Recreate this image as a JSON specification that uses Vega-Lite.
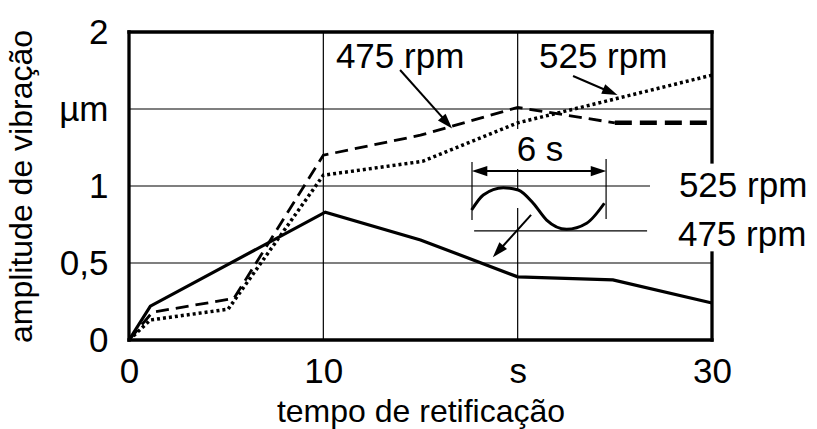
{
  "$schema": "https://vega.github.io/schema/vega-lite/v6.json",
  "width": 583,
  "height": 308,
  "autosize": {"type": "none"},
  "padding": {"left": 129, "top": 32, "right": 105, "bottom": 89},
  "background": "white",
  "config": {"view": {"stroke": null}, "font": "Liberation Sans"},
  "datasets": {
    "frame": [
      {"x": 0, "x2": 30, "y": 2, "y2": 2},
      {"x": 0, "x2": 30, "y": 0, "y2": 0},
      {"x": 0, "x2": 0, "y": 0, "y2": 2},
      {"x": 30, "x2": 30, "y": 2, "y2": 1.156},
      {"x": 30, "x2": 30, "y": 0.565, "y2": 0}
    ],
    "grid": [
      {"x": 10, "x2": 10, "y": 0, "y2": 2},
      {"x": 20, "x2": 20, "y": 2, "y2": 1.37},
      {"x": 20, "x2": 20, "y": 1.11, "y2": 0.97},
      {"x": 20, "x2": 20, "y": 0.857, "y2": 0},
      {"x": 0, "x2": 30, "y": 1.5, "y2": 1.5},
      {"x": 0, "x2": 26.81, "y": 1, "y2": 1},
      {"x": 0, "x2": 30, "y": 0.5, "y2": 0.5},
      {"x": 17.76, "x2": 26.66, "y": 0.708, "y2": 0.708},
      {"x": 17.65, "x2": 17.65, "y": 1.156, "y2": 0.779},
      {"x": 24.55, "x2": 24.55, "y": 1.175, "y2": 0.786}
    ],
    "shafts": [
      {"x": 13.95, "y": 1.753, "x2": 16.38, "y2": 1.41},
      {"x": 22.85, "y": 1.714, "x2": 24.79, "y2": 1.609},
      {"x": 20.69, "y": 0.812, "x2": 18.98, "y2": 0.573},
      {"x": 18.01, "y": 1.097, "x2": 24.19, "y2": 1.097}
    ],
    "heads": [
      {"id": "a1", "x": 16.36, "y": 1.41},
      {"id": "a2", "x": 24.77, "y": 1.61},
      {"id": "a3", "x": 18.99, "y": 0.575},
      {"id": "a4", "x": 18.04, "y": 1.097},
      {"id": "a5", "x": 24.16, "y": 1.097}
    ],
    "curves": [
      {"series": "solid", "x": 0, "y": 0},
      {"series": "solid", "x": 1.1, "y": 0.22},
      {"series": "solid", "x": 10.1, "y": 0.83},
      {"series": "solid", "x": 15, "y": 0.65},
      {"series": "solid", "x": 20, "y": 0.41},
      {"series": "solid", "x": 24.9, "y": 0.39},
      {"series": "solid", "x": 30, "y": 0.24},
      {"series": "475", "x": 0, "y": 0},
      {"series": "475", "x": 1.2, "y": 0.18},
      {"series": "475", "x": 5.4, "y": 0.27},
      {"series": "475", "x": 10, "y": 1.2},
      {"series": "475", "x": 15, "y": 1.33},
      {"series": "475", "x": 20, "y": 1.51},
      {"series": "475", "x": 25, "y": 1.41},
      {"series": "475end", "x": 25, "y": 1.41},
      {"series": "475end", "x": 30, "y": 1.41},
      {"series": "525", "x": 0, "y": 0},
      {"series": "525", "x": 1.1, "y": 0.13},
      {"series": "525", "x": 5.1, "y": 0.2},
      {"series": "525", "x": 10, "y": 1.07},
      {"series": "525", "x": 15.1, "y": 1.16},
      {"series": "525", "x": 20, "y": 1.41},
      {"series": "525", "x": 30, "y": 1.72},
      {"series": "wave", "x": 17.63, "y": 0.844},
      {"series": "wave", "x": 18.23, "y": 0.942},
      {"series": "wave", "x": 19.26, "y": 0.989},
      {"series": "wave", "x": 20.03, "y": 0.974},
      {"series": "wave", "x": 20.8, "y": 0.888},
      {"series": "wave", "x": 21.49, "y": 0.779},
      {"series": "wave", "x": 22.52, "y": 0.719},
      {"series": "wave", "x": 23.55, "y": 0.758},
      {"series": "wave", "x": 24.46, "y": 0.888}
    ],
    "texts": [
      {"label": "475 rpm", "x": 13.95, "y": 1.84},
      {"label": "525 rpm", "x": 24.4, "y": 1.84},
      {"label": "6 s", "x": 21.15, "y": 1.234},
      {"label": "525 rpm", "x": 31.6, "y": 1.0},
      {"label": "475 rpm", "x": 31.55, "y": 0.68}
    ]
  },
  "layer": [
    {
      "data": {"name": "grid"},
      "mark": {"type": "rule", "color": "black", "strokeWidth": 1.2},
      "encoding": {
        "x": {
          "field": "x", "type": "quantitative",
          "scale": {"domain": [0, 30], "nice": false, "zero": false},
          "axis": {
            "values": [0, 10, 20, 30],
            "labelExpr": "datum.value == 20 ? 's' : datum.label",
            "domain": false, "ticks": false, "tickSize": 0, "grid": false,
            "labelFontSize": 35, "labelColor": "black", "labelPadding": 14,
            "labelFlush": false, "labelOverlap": false,
            "title": "tempo de retificação", "titleFontSize": 32,
            "titleFontWeight": "normal", "titleColor": "black", "titlePadding": 7
          }
        },
        "x2": {"field": "x2"},
        "y": {
          "field": "y", "type": "quantitative",
          "scale": {"domain": [0, 2], "nice": false, "zero": false},
          "axis": {
            "values": [0, 0.5, 1, 1.5, 2],
            "labelExpr": "datum.value == 1.5 ? 'µm' : (datum.value == 0.5 ? '0,5' : (datum.value == 1 ? '1' : (datum.value == 2 ? '2' : '0')))",
            "domain": false, "ticks": false, "tickSize": 0, "grid": false,
            "labelFontSize": 35, "labelColor": "black", "labelPadding": 21,
            "labelFlush": false, "labelOverlap": false,
            "title": "amplitude de vibração", "titleFontSize": 32,
            "titleFontWeight": "normal", "titleColor": "black", "titlePadding": 20
          }
        },
        "y2": {"field": "y2"}
      }
    },
    {
      "data": {"name": "frame"},
      "mark": {"type": "rule", "color": "black", "strokeWidth": 3.3, "strokeCap": "square"},
      "encoding": {
        "x": {"field": "x", "type": "quantitative"},
        "x2": {"field": "x2"},
        "y": {"field": "y", "type": "quantitative"},
        "y2": {"field": "y2"}
      }
    },
    {
      "data": {"name": "shafts"},
      "mark": {"type": "rule", "color": "black", "strokeWidth": 2},
      "encoding": {
        "x": {"field": "x", "type": "quantitative"},
        "x2": {"field": "x2"},
        "y": {"field": "y", "type": "quantitative"},
        "y2": {"field": "y2"}
      }
    },
    {
      "data": {"name": "curves"},
      "transform": [{"filter": "datum.series == 'solid'"}],
      "mark": {"type": "line", "color": "black", "strokeWidth": 3.2},
      "encoding": {
        "x": {"field": "x", "type": "quantitative"},
        "y": {"field": "y", "type": "quantitative"}
      }
    },
    {
      "data": {"name": "curves"},
      "transform": [{"filter": "datum.series == '475'"}],
      "mark": {"type": "line", "color": "black", "strokeWidth": 2.8, "strokeDash": [13, 7]},
      "encoding": {
        "x": {"field": "x", "type": "quantitative"},
        "y": {"field": "y", "type": "quantitative"}
      }
    },
    {
      "data": {"name": "curves"},
      "transform": [{"filter": "datum.series == '475end'"}],
      "mark": {"type": "line", "color": "black", "strokeWidth": 4.5, "strokeDash": [17, 8]},
      "encoding": {
        "x": {"field": "x", "type": "quantitative"},
        "y": {"field": "y", "type": "quantitative"}
      }
    },
    {
      "data": {"name": "curves"},
      "transform": [{"filter": "datum.series == '525'"}],
      "mark": {"type": "line", "color": "black", "strokeWidth": 3.5, "strokeDash": [3, 3]},
      "encoding": {
        "x": {"field": "x", "type": "quantitative"},
        "y": {"field": "y", "type": "quantitative"}
      }
    },
    {
      "data": {"name": "curves"},
      "transform": [{"filter": "datum.series == 'wave'"}],
      "mark": {"type": "line", "color": "black", "strokeWidth": 3, "interpolate": "monotone"},
      "encoding": {
        "x": {"field": "x", "type": "quantitative"},
        "y": {"field": "y", "type": "quantitative"}
      }
    },
    {
      "data": {"name": "heads"},
      "transform": [{"filter": "datum.id == 'a1'"}],
      "mark": {"type": "point", "shape": "M0,-1L0.66,1L-0.66,1Z", "filled": true, "color": "black", "opacity": 1, "size": 240, "angle": 138},
      "encoding": {
        "x": {"field": "x", "type": "quantitative"},
        "y": {"field": "y", "type": "quantitative"}
      }
    },
    {
      "data": {"name": "heads"},
      "transform": [{"filter": "datum.id == 'a2'"}],
      "mark": {"type": "point", "shape": "M0,-1L0.66,1L-0.66,1Z", "filled": true, "color": "black", "opacity": 1, "size": 240, "angle": 113},
      "encoding": {
        "x": {"field": "x", "type": "quantitative"},
        "y": {"field": "y", "type": "quantitative"}
      }
    },
    {
      "data": {"name": "heads"},
      "transform": [{"filter": "datum.id == 'a3'"}],
      "mark": {"type": "point", "shape": "M0,-1L0.66,1L-0.66,1Z", "filled": true, "color": "black", "opacity": 1, "size": 240, "angle": 222},
      "encoding": {
        "x": {"field": "x", "type": "quantitative"},
        "y": {"field": "y", "type": "quantitative"}
      }
    },
    {
      "data": {"name": "heads"},
      "transform": [{"filter": "datum.id == 'a4'"}],
      "mark": {"type": "point", "shape": "M0,-1L0.66,1L-0.66,1Z", "filled": true, "color": "black", "opacity": 1, "size": 240, "angle": 270},
      "encoding": {
        "x": {"field": "x", "type": "quantitative"},
        "y": {"field": "y", "type": "quantitative"}
      }
    },
    {
      "data": {"name": "heads"},
      "transform": [{"filter": "datum.id == 'a5'"}],
      "mark": {"type": "point", "shape": "M0,-1L0.66,1L-0.66,1Z", "filled": true, "color": "black", "opacity": 1, "size": 240, "angle": 90},
      "encoding": {
        "x": {"field": "x", "type": "quantitative"},
        "y": {"field": "y", "type": "quantitative"}
      }
    },
    {
      "data": {"name": "texts"},
      "mark": {"type": "text", "color": "black", "fontSize": 35, "align": "center", "baseline": "middle", "font": "Liberation Sans"},
      "encoding": {
        "x": {"field": "x", "type": "quantitative"},
        "y": {"field": "y", "type": "quantitative"},
        "text": {"field": "label"}
      }
    }
  ]
}
